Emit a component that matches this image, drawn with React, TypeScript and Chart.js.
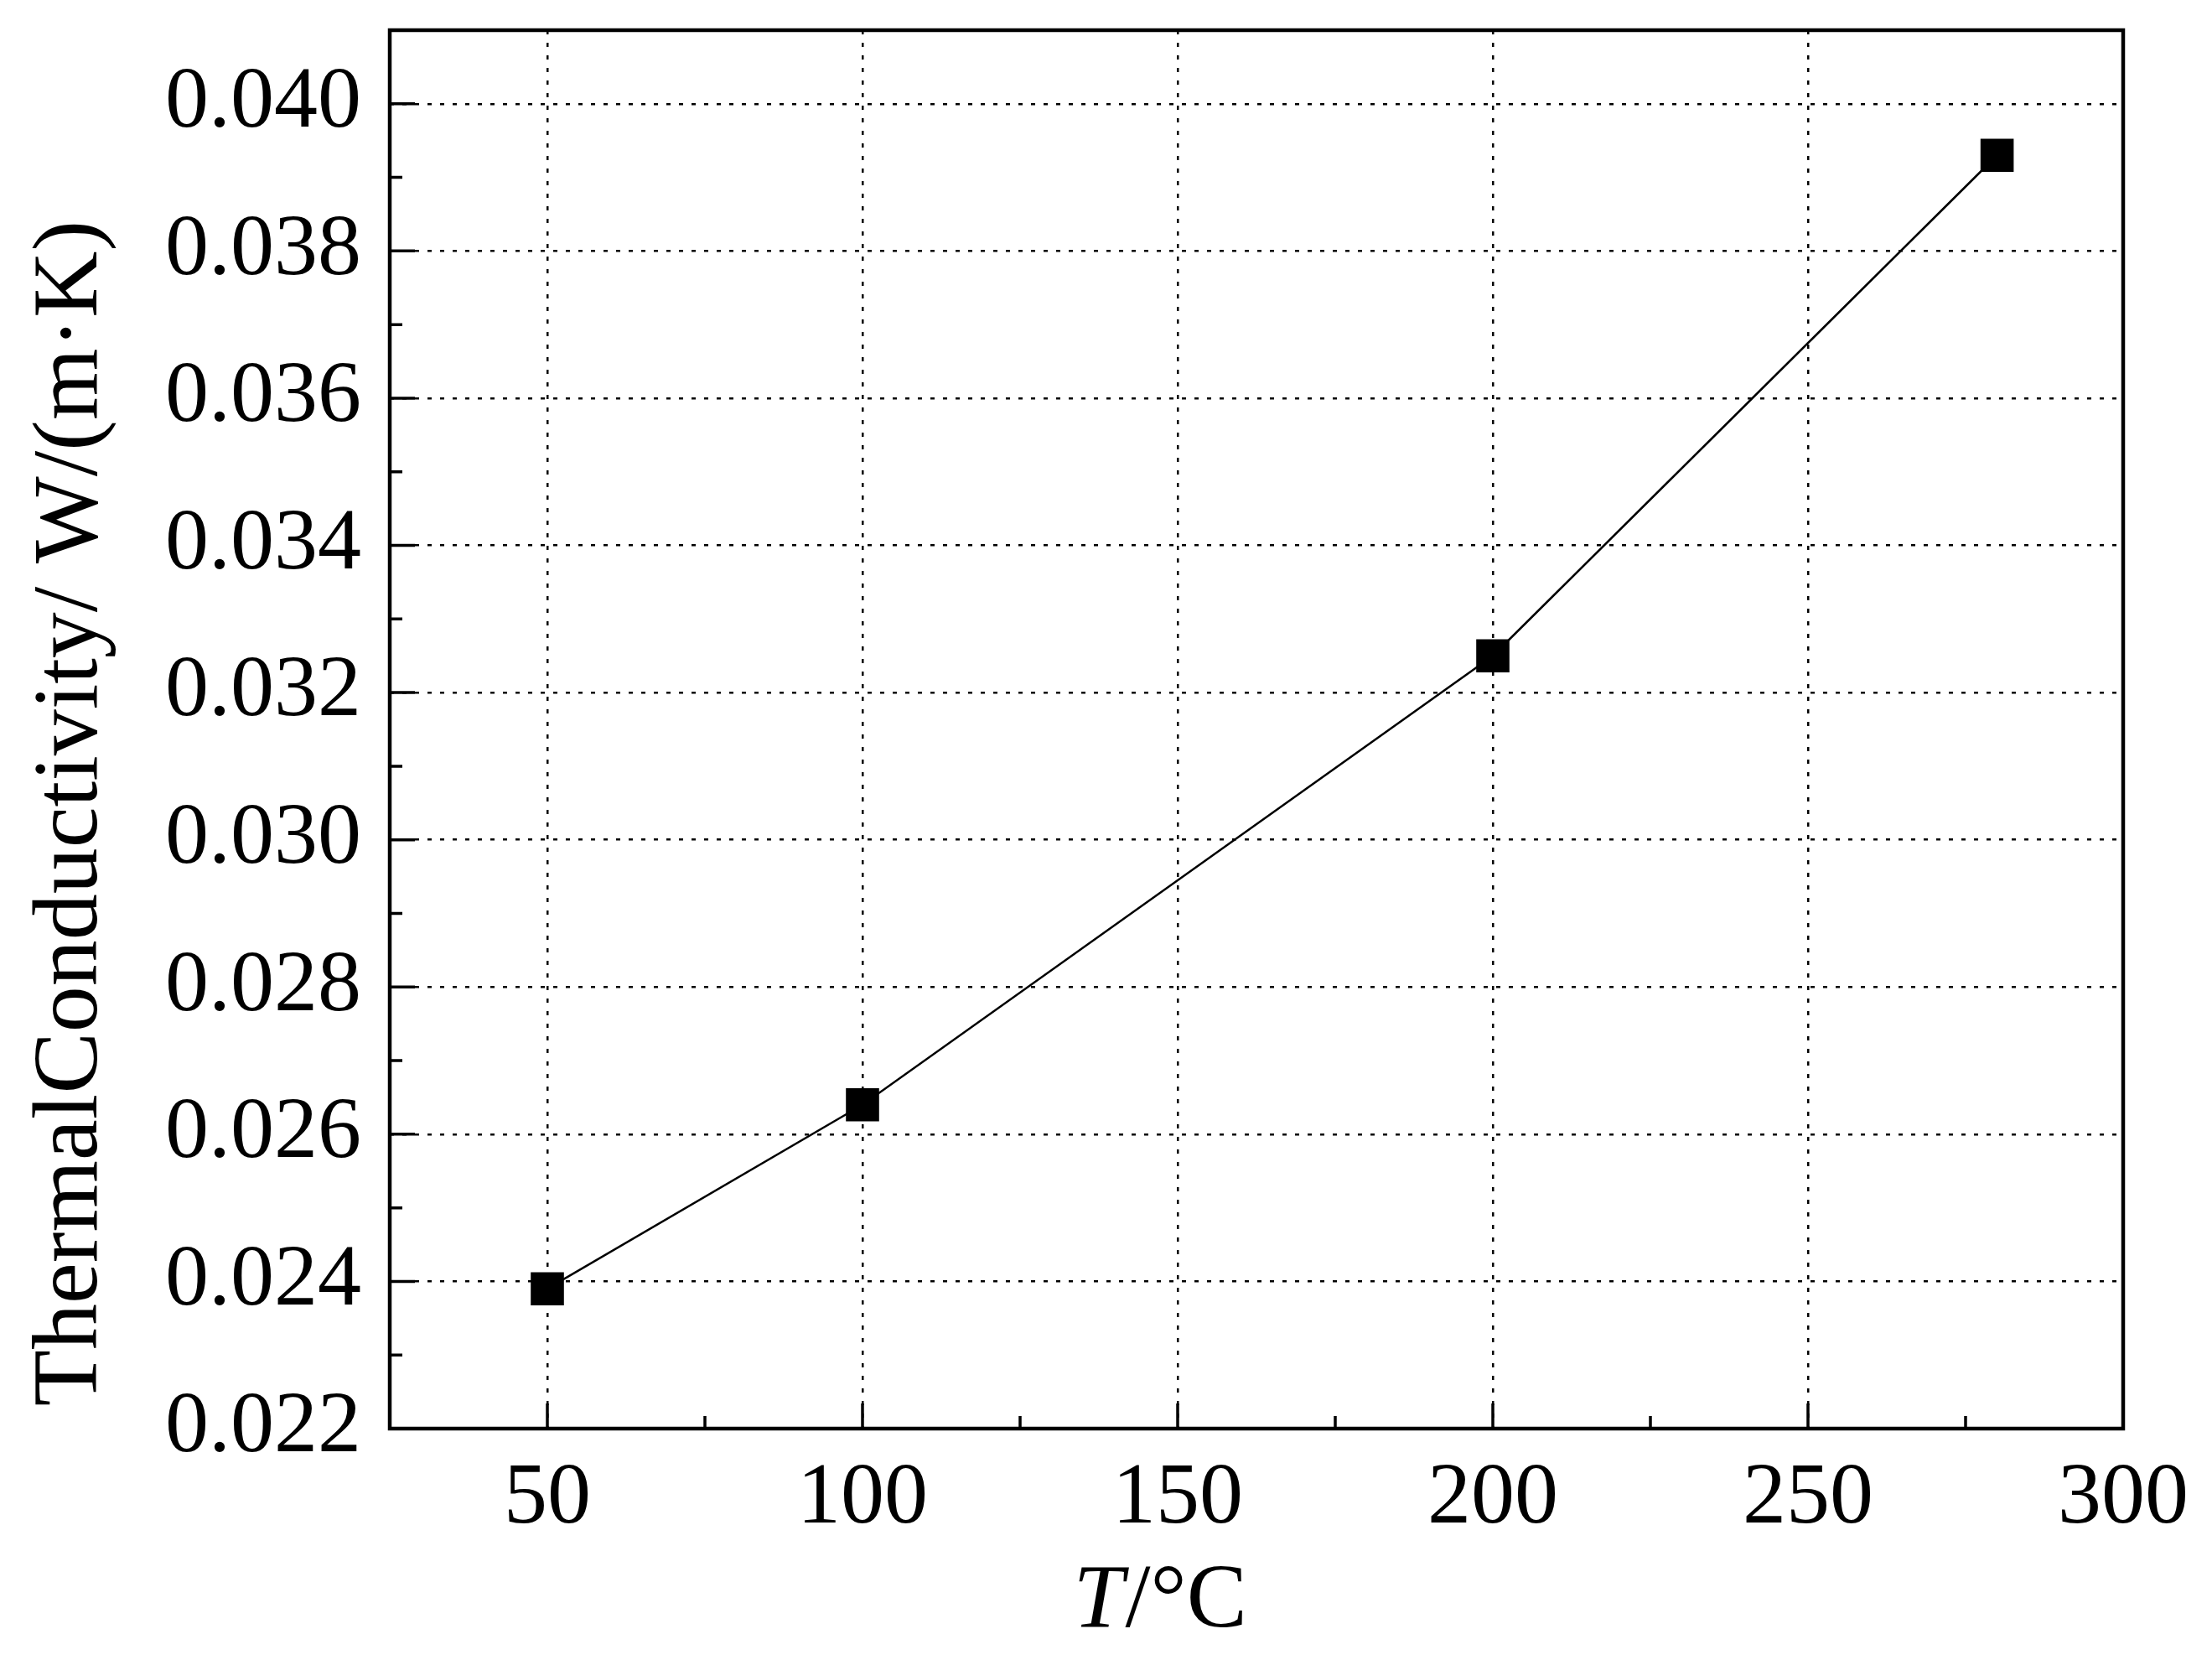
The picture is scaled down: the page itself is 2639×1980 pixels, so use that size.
import React, { useEffect, useRef } from "react"
import Chart from "chart.js/auto"

// temperature (°C) and measured conductivity W/(m·K)
const temperatures = [50, 100, 200, 280]
const conductivity = [0.0239, 0.0264, 0.0325, 0.0393]

const xTickValues = [50, 100, 150, 200, 250, 300]
const xMinorTicks = [75, 125, 175, 225, 275]
const yTickValues = [0.022, 0.024, 0.026, 0.028, 0.03, 0.032, 0.034, 0.036, 0.038, 0.04]
const yMinorTicks = [0.023, 0.025, 0.027, 0.029, 0.031, 0.033, 0.035, 0.037, 0.039]

const yTitle = "ThermalConductivity/ W/(m·K)"
const FONT = "'Liberation Serif', 'Times New Roman', serif"

const framePlugin = {
  id: "frame",
  afterDraw(chart: any) {
    const { ctx, chartArea, scales } = chart
    const { left, right, top, bottom } = chartArea
    ctx.save()
    ctx.strokeStyle = "#000"

    // inward tick marks
    ctx.lineWidth = 3.5
    ctx.beginPath()
    xTickValues.forEach((v) => {
      const x = scales.x.getPixelForValue(v)
      ctx.moveTo(x, bottom)
      ctx.lineTo(x, bottom - 30)
    })
    xMinorTicks.forEach((v) => {
      const x = scales.x.getPixelForValue(v)
      ctx.moveTo(x, bottom)
      ctx.lineTo(x, bottom - 15)
    })
    yTickValues.forEach((v) => {
      const y = scales.y.getPixelForValue(v)
      ctx.moveTo(left, y)
      ctx.lineTo(left + 30, y)
    })
    yMinorTicks.forEach((v) => {
      const y = scales.y.getPixelForValue(v)
      ctx.moveTo(left, y)
      ctx.lineTo(left + 15, y)
    })
    ctx.stroke()

    // box
    ctx.lineWidth = 4.5
    ctx.strokeRect(left, top, right - left, bottom - top)

    // x title: italic T, upright /°C
    ctx.fillStyle = "#000"
    ctx.textBaseline = "alphabetic"
    ctx.textAlign = "left"
    const italic = `italic 108px ${FONT}`
    const upright = `108px ${FONT}`
    ctx.font = italic
    const wT = ctx.measureText("T").width
    ctx.font = upright
    const wRest = ctx.measureText("/°C").width
    const cx = left + (right - left) * 0.444
    const x0 = cx - (wT + wRest) / 2
    const by = bottom + 236
    ctx.font = italic
    ctx.fillText("T", x0, by)
    ctx.font = upright
    ctx.fillText("/°C", x0 + wT + 2, by)

    // y title
    ctx.translate(left - 350, 962)
    ctx.rotate(-Math.PI / 2)
    ctx.textAlign = "center"
    ctx.font = `110px ${FONT}`
    ctx.fillText(yTitle, 0, 0)
    ctx.restore()
  },
}

const App: React.FC = () => {
  const chartRef = useRef<HTMLCanvasElement | null>(null)
  const chartInstance = useRef<Chart | null>(null)

  useEffect(() => {
    if (chartRef.current) {
      const ctx = chartRef.current.getContext("2d")
      if (ctx) {
        if (chartInstance.current) {
          chartInstance.current.destroy()
        }
        chartInstance.current = new Chart(ctx, {
          type: "scatter",
          data: {
            datasets: [
              {
                label: "Thermal conductivity",
                data: temperatures.map((t, i) => ({ x: t, y: conductivity[i] })),
                showLine: true,
                borderColor: "#000",
                borderWidth: 2.5,
                backgroundColor: "#000",
                pointStyle: "rect",
                pointRadius: 28,
                pointBorderWidth: 0,
              },
            ],
          },
          plugins: [framePlugin],
          options: {
            animation: false,
            responsive: true,
            maintainAspectRatio: false,
            layout: { padding: { left: 157, right: 98, top: 25, bottom: 68 } },
            plugins: {
              legend: { display: false },
              tooltip: { enabled: false },
            },
            scales: {
              x: {
                type: "linear",
                min: 25,
                max: 300,
                afterBuildTicks: (scale: any) => {
                  scale.ticks = xTickValues.map((v) => ({ value: v }))
                },
                afterFit: (scale: any) => {
                  scale.height = 200
                  scale.paddingLeft = 0
                  scale.paddingRight = 0
                },
                ticks: {
                  color: "#000",
                  padding: 22,
                  font: { family: FONT, size: 104 },
                  maxRotation: 0,
                },
                grid: {
                  color: "#000",
                  lineWidth: 2.5,
                  drawTicks: false,
                },
                border: { display: false, dash: [5, 10] },
              },
              y: {
                type: "linear",
                min: 0.022,
                max: 0.041,
                afterBuildTicks: (scale: any) => {
                  scale.ticks = yTickValues.map((v) => ({ value: v }))
                },
                afterFit: (scale: any) => {
                  scale.width = 300
                  scale.paddingTop = 0
                  scale.paddingBottom = 0
                },
                ticks: {
                  color: "#000",
                  padding: 34,
                  font: { family: FONT, size: 104 },
                  callback: (v: any) => Number(v).toFixed(3),
                },
                grid: {
                  color: "#000",
                  lineWidth: 2.5,
                  drawTicks: false,
                },
                border: { display: false, dash: [5, 10] },
              },
            },
          },
        })
      }
    }
    return () => {
      if (chartInstance.current) {
        chartInstance.current.destroy()
        chartInstance.current = null
      }
    }
  }, [])

  return (
    <div style={{ width: 2623, height: 1964, position: "relative" }}>
      <canvas ref={chartRef} />
    </div>
  )
}

export default App
